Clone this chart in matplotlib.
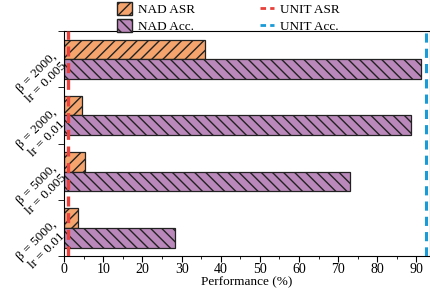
import numpy as np
import matplotlib
matplotlib.use("Agg")
import matplotlib.pyplot as plt
from matplotlib.patches import Patch
from matplotlib.lines import Line2D

plt.rcParams['font.family'] = ['Liberation Serif', 'DejaVu Serif']
plt.rcParams['hatch.linewidth'] = 1.0

# data
settings = ["β = 2000,\nlr = 0.005", "β = 2000,\nlr = 0.01",
            "β = 5000,\nlr = 0.005", "β = 5000,\nlr = 0.01"]
nad_asr = [35.9, 4.5, 5.3, 3.5]
nad_acc = [91.2, 88.6, 72.9, 28.2]
unit_asr = 1.0
unit_acc = 92.4

c_asr = '#F4A46C'
c_acc = '#BA88BA'

fig = plt.figure(figsize=(4.31, 2.96), dpi=100)
ax = fig.add_axes([0.149, 0.135, 0.849, 0.76])

y = np.arange(len(settings))
h = 0.35
ax.barh(y - h/2, nad_asr, height=h, color=c_asr, edgecolor='#222222',
        linewidth=0.9, hatch='///', zorder=1)
ax.barh(y + h/2, nad_acc, height=h, color=c_acc, edgecolor='#222222',
        linewidth=0.9, hatch='\\\\\\', zorder=1)
ax.axvline(unit_asr, color='#E8403A', ls=(0, (3, 2)), lw=2.4, zorder=10)
ax.axvline(unit_acc, color='#1A9AD6', ls=(0, (3, 2)), lw=2.2, zorder=10)

ax.set_ylim(len(settings) - 0.5, -0.5)
ax.set_xlim(0, 93.5)
ax.set_xticks(np.arange(0, 91, 10))
ax.set_xticks(np.arange(5, 91, 10), minor=True)
ax.tick_params(axis='x', which='major', length=4, labelsize=10, pad=1)
ax.tick_params(axis='x', which='minor', length=2.5)

ax.set_yticks(y)
ax.set_yticklabels(settings, rotation=45, fontsize=9.5, ha='right',
                   va='center', rotation_mode='anchor', multialignment='center')
ax.set_yticks(np.arange(-0.5, len(settings), 1), minor=True)
ax.tick_params(axis='y', which='major', length=0, pad=3)
ax.tick_params(axis='y', which='minor', length=4)
ax.set_xlabel("Performance (%)", fontsize=9.5, labelpad=0)

for s in ax.spines.values():
    s.set_linewidth(0.8)

handles = [
    Patch(facecolor=c_asr, edgecolor='#222222', hatch='///', label='NAD ASR'),
    Patch(facecolor=c_acc, edgecolor='#222222', hatch='\\\\\\', label='NAD Acc.'),
    Line2D([], [], color='#E8403A', ls=(0, (2, 1.5)), lw=2, label='UNIT ASR'),
    Line2D([], [], color='#1A9AD6', ls=(0, (2, 1.5)), lw=2, label='UNIT Acc.'),
]
ax.legend(handles=handles, ncol=2,
          loc='lower center', bbox_to_anchor=(0.449, 0.985), frameon=False,
          fontsize=9.5, columnspacing=4.9, handlelength=1.1, handleheight=1.1,
          handletextpad=0.45, labelspacing=0.25, borderaxespad=0,
          borderpad=0.1)

fig.savefig("out.png", dpi=100)
